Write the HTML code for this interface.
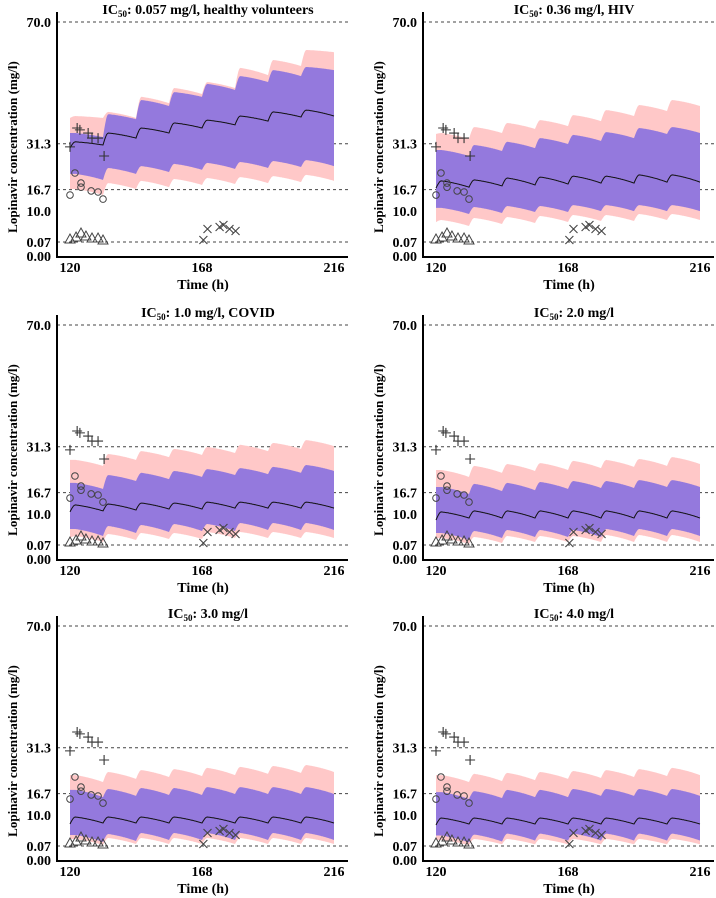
<!DOCTYPE html>
<html><head><meta charset="utf-8">
<style>
html,body{margin:0;padding:0;background:#fff;}
svg{display:block;font-family:"Liberation Serif",serif;}
</style></head>
<body>
<svg id="chart" width="716" height="898" viewBox="0 0 716 898" xmlns="http://www.w3.org/2000/svg"></svg>
<script>
// ---- data (one row per panel) ----
const panelTitles = ["0.057 mg/l, healthy volunteers","0.36 mg/l, HIV","1.0 mg/l, COVID","2.0 mg/l","3.0 mg/l","4.0 mg/l"];
const yTickValues = [70.0, 31.3, 16.7, 10.0, 0.07];
const yTickLabels = ["70.0","31.3","16.7","10.0","0.07"];
const gridValues = [70.0, 31.3, 16.7, 0.07];
const xTickValues = [120, 168, 216];
const doseTimes = [120,132,144,156,168,180,192,204];

const pinkHiPeaks = [
 [40.1,41.4,46.2,49.0,50.9,55.4,57.9,61.1],
 [34.7,36.6,37.9,38.8,40.4,42.0,43.6,45.2],
 [27.1,29.0,29.9,30.6,31.2,31.9,32.5,33.4],
 [23.9,25.2,25.8,26.1,26.8,27.1,27.4,28.0],
 [22.6,23.6,24.2,24.5,24.9,25.2,25.5,25.8],
 [22.6,23.0,23.3,23.6,23.9,24.2,24.5,24.9]];
const pinkHiTroughs = [
 [39.5,39.5,39.5,44.2,47.1,49.0,53.1,56.0,60.4],
 [34.4,32.8,34.7,36.0,36.9,38.5,40.1,41.7,43.3],
 [27.1,25.2,27.1,28.0,28.7,29.3,29.9,30.6,31.5],
 [23.9,21.7,23.0,23.6,23.9,24.5,24.9,25.2,25.8],
 [22.6,20.4,21.4,22.0,22.3,22.6,23.0,23.3,23.6],
 [22.6,20.4,20.7,21.0,21.4,21.7,22.0,22.3,22.6]];
const purpleHiPeaks = [
 [34.7,40.7,45.2,47.7,50.3,52.8,54.7,55.7],
 [29.3,30.9,31.9,33.1,34.1,35.0,36.3,36.6],
 [19.8,22.3,23.0,23.6,24.2,24.5,24.9,25.5],
 [18.5,19.5,19.8,20.1,20.4,20.4,20.7,20.7],
 [17.9,18.2,18.5,18.5,18.8,18.8,18.8,18.8],
 [17.2,17.5,17.9,17.9,18.2,18.2,18.2,18.2]];
const purpleHiTroughs = [
 [34.7,33.4,39.1,43.3,46.2,48.4,50.9,52.8,54.7],
 [29.3,27.4,29.0,29.9,31.2,32.2,33.1,34.4,34.7],
 [19.8,17.9,20.4,21.0,21.7,22.3,22.6,23.0,23.6],
 [18.5,16.3,17.2,17.5,17.9,18.2,18.2,18.5,18.5],
 [17.9,15.6,16.0,16.3,16.3,16.6,16.6,16.6,16.6],
 [17.2,15.0,15.3,15.6,15.6,16.0,16.0,16.0,16.0]];
const medianPeaks = [
 [31.9,34.7,36.3,37.9,38.8,40.1,41.4,42.0],
 [19.5,19.8,20.4,20.7,21.0,21.0,21.4,21.4],
 [12.8,13.1,13.4,13.4,13.7,13.7,13.7,13.7],
 [10.6,10.9,10.9,10.9,10.9,10.9,10.9,10.9],
 [9.29,9.29,9.29,9.29,9.29,9.29,9.29,9.29],
 [8.97,8.97,8.97,8.97,8.97,8.97,8.97,8.97]];
const medianTroughs = [
 [29.9,30.9,33.1,34.7,36.3,37.3,38.5,39.8,40.1],
 [17.2,17.5,17.9,18.2,18.5,18.8,18.8,19.1,19.1],
 [10.6,10.9,11.2,11.5,11.5,11.8,11.8,11.8,11.8],
 [8.0,8.65,8.65,8.65,8.65,8.65,8.65,8.65,8.65],
 [7.06,7.38,7.38,7.38,7.38,7.38,7.38,7.38,7.38],
 [6.74,7.06,7.06,7.06,7.06,7.06,7.06,7.06,7.06]];
const purpleLoPeaks = [
 [21.7,23.6,24.2,24.9,25.2,25.5,25.8,26.1],
 [10.9,11.2,11.5,11.5,11.8,11.8,11.8,11.8],
 [5.15,6.11,6.43,6.74,6.74,7.06,7.06,7.06],
 [3.88,4.52,4.84,4.84,4.84,5.15,5.15,5.15],
 [3.57,3.88,4.2,4.2,4.2,4.2,4.2,4.2],
 [3.4,3.7,4.0,4.0,4.0,4.0,4.0,4.0]];
const purpleLoTroughs = [
 [21.7,19.8,21.7,22.3,23.0,23.3,23.6,23.9,24.2],
 [10.9,8.97,9.29,9.6,9.6,9.9,9.9,9.9,9.9],
 [5.15,2.93,3.88,4.2,4.52,4.52,4.84,4.84,4.84],
 [3.88,1.66,2.29,2.61,2.61,2.61,2.93,2.93,2.93],
 [3.57,1.34,1.66,1.98,1.98,1.98,1.98,1.98,1.98],
 [3.4,1.2,1.5,1.8,1.8,1.8,1.8,1.8,1.8]];
const pinkLoPeaks = [
 [16.9,18.8,19.5,20.1,20.4,20.7,21.0,21.4],
 [7.06,7.7,8.0,8.33,8.65,8.65,8.97,8.97],
 [2.93,3.57,3.88,3.88,4.2,4.2,4.2,4.2],
 [2.29,2.61,2.93,2.93,2.93,3.25,3.25,3.25],
 [2.29,2.61,2.61,2.61,2.61,2.61,2.61,2.61],
 [2.0,2.3,2.3,2.3,2.3,2.3,2.3,2.3]];
const pinkLoTroughs = [
 [16.9,15.0,16.9,17.5,18.2,18.5,18.8,19.1,19.5],
 [6.4,5.15,5.79,6.11,6.43,6.74,6.74,7.06,7.06],
 [2.29,1.02,1.66,1.98,1.98,2.29,2.29,2.29,2.29],
 [2.29,0.39,0.71,1.02,1.02,1.02,1.02,1.02,1.02],
 [2.29,0.39,0.71,0.71,0.71,0.71,0.71,0.71,0.71],
 [2.0,0.3,0.6,0.6,0.6,0.6,0.6,0.6,0.6]];

// observed data (same in every panel)
const plusTimes = [120,122.6,123.6,126.6,128.0,130.2,132.4];
const plusValues = [30.3,36.3,35.7,34.7,33.1,33.1,27.4];
const circleTimes = [120,121.8,124.0,124.0,127.7,130.2,132.0];
const circleValues = [15.0,22.0,18.8,17.5,16.3,15.96,13.7];
const triangleTimes = [120,122.2,124.0,125.8,128.0,130.2,132.0];
const triangleValues = [1.02,1.66,2.93,1.98,1.34,1.34,0.71];
const crossTimes = [168.5,170.0,174.4,175.8,178.0,180.2];
const crossValues = [0.71,4.2,4.84,5.47,4.2,3.57];

// ---- drawing ----
const NS = "http://www.w3.org/2000/svg";
const svg = document.getElementById('chart');
const colOff = [0,366], rowOff = [0,303,604];
function mk(tag, attrs, parent){
  const e = document.createElementNS(NS, tag);
  for (const k in attrs) e.setAttribute(k, attrs[k]);
  (parent||svg).appendChild(e); return e;
}
function shape(t, peak, tA, tB){
  const R = 2.0;
  if (t < R) return tA + (peak - tA) * Math.sin(t/R*Math.PI/2);
  const u = (t-R)/(12-R);
  return peak + (tB - peak) * (0.6*u + 0.4*u*u);
}
function seriesPts(pk, tr, xs, ys){
  const pts = [];
  for (let i=0;i<doseTimes.length;i++){
    for (let t=0;t<=12.001;t+=0.25){
      pts.push([xs(doseTimes[i]+t), ys(shape(t,pk[i],tr[i],tr[i+1]))]);
    }
  }
  return pts;
}
for (let p=0;p<6;p++){
  const cx = colOff[p%2], cy = rowOff[Math.floor(p/2)];
  const g = mk('g',{});
  
  
  const xs = h => cx + 70 + (h-120)*(264/96);
  const ys = v => cy + 242 - (v-0.07)/0.3178;
  gridValues.forEach(v=>{
    const l = mk('line',{x1:cx+57,x2:cx+348,y1:ys(v),y2:ys(v),stroke:'#444','stroke-width':1,'stroke-dasharray':'3,3'},g);
    
    
  });
  function band(hiPk,hiTr,loPk,loTr,color,name){
    const hi = seriesPts(hiPk,hiTr,xs,ys), lo = seriesPts(loPk,loTr,xs,ys).reverse();
    const d = 'M'+hi.concat(lo).map(q=>q[0].toFixed(1)+','+q[1].toFixed(1)).join('L')+'Z';
    const e = mk('path',{d:d,fill:color,stroke:'none'},g);
    
    
  }
  band(pinkHiPeaks[p],pinkHiTroughs[p],pinkLoPeaks[p],pinkLoTroughs[p],'#ffc8c8','outer-prediction-band');
  band(purpleHiPeaks[p],purpleHiTroughs[p],purpleLoPeaks[p],purpleLoTroughs[p],'#9479dd','inner-prediction-band');
  const med = seriesPts(medianPeaks[p],medianTroughs[p],xs,ys);
  const ml = mk('path',{d:'M'+med.map(q=>q[0].toFixed(1)+','+q[1].toFixed(1)).join('L'),fill:'none',stroke:'#111','stroke-width':1},g);
  
  
  plusTimes.forEach((h,i)=>{
    const x=xs(h), y=ys(plusValues[i]);
    const e = mk('path',{d:`M${x-5},${y}H${x+5}M${x},${y-5}V${y+5}`,stroke:'#333','stroke-width':1.1,fill:'none'},g);
    
    
  });
  circleTimes.forEach((h,i)=>{
    const e = mk('circle',{cx:xs(h),cy:ys(circleValues[i]),r:3.3,stroke:'#444','stroke-width':1,fill:'none'},g);
    
    
  });
  triangleTimes.forEach((h,i)=>{
    const x=xs(h), y=ys(triangleValues[i]);
    const e = mk('path',{d:`M${x-5},${y+4}L${x+5},${y+4}L${x},${y-5}Z`,stroke:'#444','stroke-width':1,fill:'none'},g);
    
    
  });
  crossTimes.forEach((h,i)=>{
    const x=xs(h), y=ys(crossValues[i]);
    const e = mk('path',{d:`M${x-4},${y-4}L${x+4},${y+4}M${x-4},${y+4}L${x+4},${y-4}`,stroke:'#444','stroke-width':1.1,fill:'none'},g);
    
    
  });
  const ax = mk('path',{d:`M${cx+57},${cy+12}V${cy+257}H${cx+348}`,stroke:'#000','stroke-width':2,fill:'none'},g);
  
  
  yTickValues.forEach((v,i)=>{
    const t = mk('text',{x:cx+51,y:ys(v)+5,'text-anchor':'end','font-size':14,'font-weight':'bold'},g);
    t.textContent = yTickLabels[i];
    
    
  });
  const z = mk('text',{x:cx+51,y:cy+261,'text-anchor':'end','font-size':14,'font-weight':'bold'},g);
  z.textContent = '0.00';
  
  
  xTickValues.forEach(h=>{
    const t = mk('text',{x:xs(h),y:cy+272,'text-anchor':'middle','font-size':14,'font-weight':'bold'},g);
    t.textContent = h;
    
    
  });
  const xt = mk('text',{x:cx+203,y:cy+289,'text-anchor':'middle','font-size':14,'font-weight':'bold'},g);
  xt.textContent = 'Time (h)';
  
  
  const yt = mk('text',{x:0,y:0,'text-anchor':'middle','font-size':13,'font-weight':'bold',transform:`translate(${cx+17},${cy+147}) rotate(-90)`},g);
  yt.textContent = 'Lopinavir concentration (mg/l)';
  
  
  const tt = mk('text',{x:cx+208,y:cy+14,'text-anchor':'middle','font-size':14,'font-weight':'bold'},g);
  
  
  const s1 = mk('tspan',{},tt); s1.textContent='IC';
  const s2 = mk('tspan',{'font-size':9,dy:3},tt); s2.textContent='50';
  const s3 = mk('tspan',{dy:-3},tt); s3.textContent=': '+panelTitles[p];
}
</script>
</body></html>
